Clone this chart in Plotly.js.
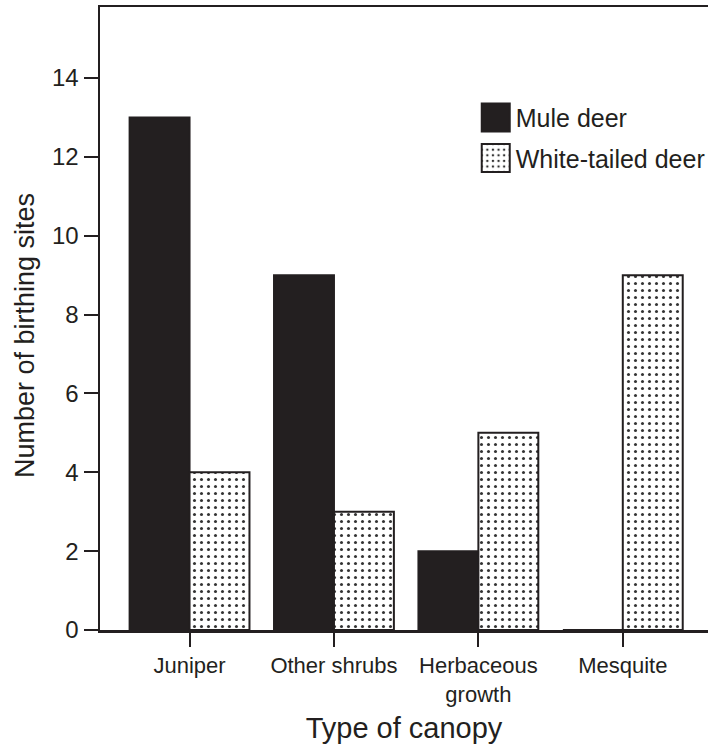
<!DOCTYPE html>
<html>
<head>
<meta charset="utf-8">
<script src="https://cdn.plot.ly/plotly-3.0.1.min.js"></script>
<style>
  html, body { margin: 0; padding: 0; background: #ffffff; }
  #chart { width: 710px; height: 748px; }
</style>
</head>
<body>
<div id="chart"></div>
<script>
// Birthing sites by canopy type for two deer species
const canopyTypes = ['Juniper', 'Other shrubs', 'Herbaceous<br>growth', 'Mesquite'];
const muleDeer = [13, 9, 2, 0];
const whiteTailedDeer = [4, 3, 5, 9];
const yTicks = [0, 2, 4, 6, 8, 10, 12, 14];

const ink = '#231f20';
const font = 'Liberation Sans, Arial, Helvetica, sans-serif';

const traces = [
  {
    type: 'bar',
    name: 'Mule deer',
    legendgroup: 'mule',
    x: canopyTypes,
    y: muleDeer,
    marker: { color: ink, line: { color: ink, width: 2 } },
    hoverinfo: 'skip'
  },
  {
    type: 'bar',
    name: 'White-tailed deer',
    legendgroup: 'white',
    x: canopyTypes,
    y: whiteTailedDeer,
    marker: {
      color: '#ffffff',
      line: { color: ink, width: 2 },
      pattern: { shape: '.', fgcolor: '#333333', bgcolor: '#ffffff', size: 7, solidity: 0.15, fillmode: 'replace' }
    },
    hoverinfo: 'skip'
  }
];

const layout = {
  width: 710,
  height: 748,
  margin: { l: 100, r: 0, t: 7, b: 118 },
  paper_bgcolor: '#ffffff',
  plot_bgcolor: '#ffffff',
  font: { family: font, color: ink },
  barmode: 'group',
  bargap: 0.17,
  bargroupgap: 0,
  showlegend: true,
  legend: {
    x: 0.618, y: 0.859, xanchor: 'left', yanchor: 'top',
    font: { size: 25, color: ink, family: font },
    bgcolor: 'rgba(0,0,0,0)',
    tracegroupgap: 5,
    traceorder: 'grouped'
  },
  xaxis: {
    type: 'category',
    range: [-0.62, 3.59],
    showline: true, linecolor: ink, linewidth: 2.5, mirror: true,
    ticks: 'outside', ticklen: 14, tickwidth: 2, tickcolor: ink,
    tickfont: { size: 22, color: ink, family: font },
    showgrid: false, zeroline: false,
    fixedrange: true,
    title: { text: 'Type of canopy', font: { size: 29, color: ink, family: font }, standoff: 12 }
  },
  yaxis: {
    range: [0, 15.8],
    tickvals: yTicks,
    ticktext: yTicks.map(String),
    showline: true, linecolor: ink, linewidth: 2.5,
    ticks: 'outside', ticklen: 14, tickwidth: 2, tickcolor: ink,
    tickfont: { size: 24, color: ink, family: font },
    ticklabelstandoff: 0,
    showgrid: false, zeroline: false,
    fixedrange: true,
    title: { text: 'Number of birthing sites', font: { size: 27, color: ink, family: font }, standoff: 10 }
  }
};

Plotly.newPlot('chart', traces, layout, { displayModeBar: false, staticPlot: true }).then(function (gd) {
  // Larger square swatches in the legend
  gd.querySelectorAll('.legend .legendpoints path').forEach(function (p) {
    p.setAttribute('d', 'M14,14H-14V-14H14Z');
    p.style.strokeWidth = '2px';
  });
  // Sit the y-axis title a little lower along the axis
  const yTitle = gd.querySelector('.ytitle');
  if (yTitle) {
    const t = yTitle.getAttribute('transform') || '';
    yTitle.setAttribute('transform', 'translate(0,17) ' + t);
  }
});
</script>
</body>
</html>
